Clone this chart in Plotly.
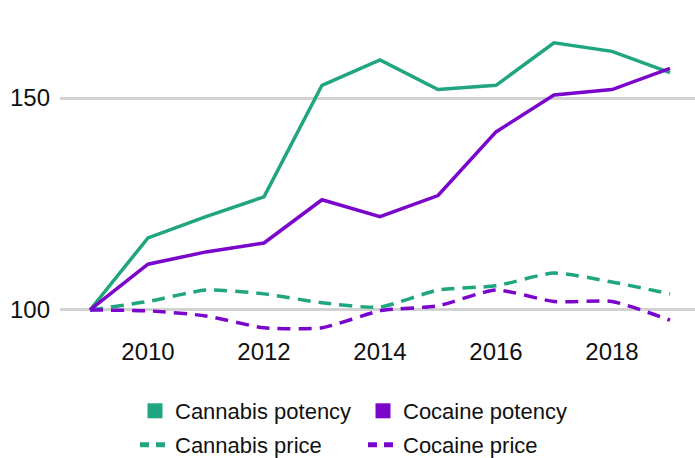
import plotly.graph_objects as go

years = [2009, 2010, 2011, 2012, 2013, 2014, 2015, 2016, 2017, 2018, 2019]
cannabis_potency = [100, 117, 122, 126.7, 153, 159, 152, 153, 163, 161, 156]
cocaine_potency = [100, 110.8, 113.7, 115.8, 126, 122, 127, 142, 150.7, 152, 157]
cannabis_price = [100, 102, 104.7, 103.8, 101.7, 100.7, 104.7, 105.7, 108.7, 106.6, 103.8]
cocaine_price = [100, 99.8, 98.6, 95.8, 95.8, 99.8, 101, 104.7, 102, 102, 97.6]
x_ticks = [2010, 2012, 2014, 2016, 2018]
y_ticks = [100, 150]

GREEN = "#1fa57f"
PURPLE = "#7a06cc"
FONT = "Liberation Sans, Arial, sans-serif"

fig = go.Figure()

# price lines (dashed, smoothed)
fig.add_trace(go.Scatter(x=years, y=cannabis_price, mode="lines", name="Cannabis price",
                         line=dict(color=GREEN, width=3.5, dash="13px,8px", shape="spline", smoothing=0.6),
                         showlegend=False))
fig.add_trace(go.Scatter(x=years, y=cocaine_price, mode="lines", name="Cocaine price",
                         line=dict(color=PURPLE, width=3.5, dash="13px,8px", shape="spline", smoothing=0.6),
                         showlegend=False))
# potency lines
fig.add_trace(go.Scatter(x=years, y=cannabis_potency, mode="lines", name="Cannabis potency",
                         line=dict(color=GREEN, width=3.5), showlegend=False))
fig.add_trace(go.Scatter(x=years, y=cocaine_potency, mode="lines", name="Cocaine potency",
                         line=dict(color=PURPLE, width=3.5), showlegend=False))

# legend entries: row 1 (legend), row 2 (legend2)
fig.add_trace(go.Scatter(x=[None], y=[None], mode="markers", name="Cannabis potency",
                         marker=dict(symbol="square", size=15, color=GREEN), legend="legend"))
fig.add_trace(go.Scatter(x=[None], y=[None], mode="markers", name="Cocaine potency",
                         marker=dict(symbol="square", size=15, color=PURPLE), legend="legend"))
fig.add_trace(go.Scatter(x=[None], y=[None], mode="lines", name="Cannabis price",
                         line=dict(color=GREEN, width=5, dash="9px,7px"), legend="legend2"))
fig.add_trace(go.Scatter(x=[None], y=[None], mode="lines", name="Cocaine price",
                         line=dict(color=PURPLE, width=5, dash="9px,7px"), legend="legend2"))

legend_common = dict(orientation="h", xref="container", yref="container", xanchor="left",
                     yanchor="middle", font=dict(size=22, color="#111111"), entrywidth=183,
                     entrywidthmode="pixels", traceorder="normal", itemwidth=30,
                     bgcolor="rgba(0,0,0,0)")

fig.update_layout(
    width=695, height=458,
    margin=dict(l=60, r=0, t=20, b=123),
    paper_bgcolor="white", plot_bgcolor="white",
    font=dict(family=FONT, color="#111111"),
    xaxis=dict(range=[2008.483, 2019.431], tickvals=x_ticks, showgrid=False, zeroline=False,
               showline=False, ticks="", tickfont=dict(size=24)),
    yaxis=dict(range=[94.1, 168.4], tickvals=y_ticks, showgrid=True, gridcolor="#d2d2d2",
               gridwidth=2.5, zeroline=False, showline=False, ticks="", tickfont=dict(size=24),
               ticklabelstandoff=9),
    legend=dict(legend_common, x=135 / 695, y=1 - 411 / 458),
    legend2=dict(legend_common, x=135 / 695, y=1 - 445 / 458),
)

fig.write_html("out.html")
